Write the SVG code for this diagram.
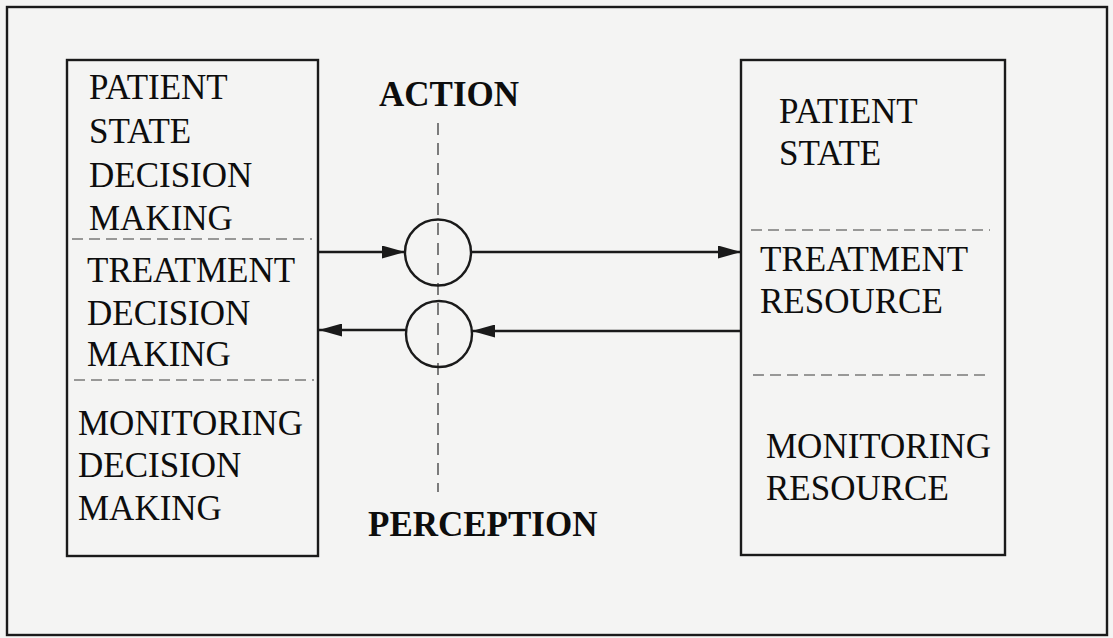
<svg xmlns="http://www.w3.org/2000/svg" width="1113" height="638" viewBox="0 0 1113 638">
  <style>
    .frame { fill: none; stroke: #1a1a1a; stroke-width: 2.4; }
    .box { fill: none; stroke: #1a1a1a; stroke-width: 2.4; }
    .divider { fill: none; stroke: #7a7a7a; stroke-width: 1.6; stroke-dasharray: 11 6; }
    .axis { fill: none; stroke: #5e5e5e; stroke-width: 1.6; stroke-dasharray: 12 8; }
    .link { fill: none; stroke: #1a1a1a; stroke-width: 2.6; }
    .node-circle { fill: none; stroke: #1a1a1a; stroke-width: 2.4; }
    .label { font-family: "Liberation Serif", "Times New Roman", serif; font-size: 35px; fill: #0d0d0d; }
    .title { font-family: "Liberation Serif", "Times New Roman", serif; font-size: 35px; font-weight: bold; fill: #0d0d0d; }
  </style>
  <defs>
    <marker id="head" markerWidth="23" markerHeight="13" refX="23" refY="6.5" orient="auto" markerUnits="userSpaceOnUse">
      <path d="M0,0 L23,6.5 L0,13 Z" fill="#1a1a1a"/>
    </marker>
  </defs>

  <rect x="0" y="0" width="1113" height="638" fill="#f4f4f3"/>
  <rect class="frame" x="7" y="7" width="1100" height="628"/>

  <!-- decision-making side -->
  <g id="decision-making">
    <rect class="box" x="67" y="60" width="251" height="496"/>
    <line class="divider" x1="72" y1="239" x2="312" y2="239"/>
    <line class="divider" x1="74" y1="380" x2="314" y2="380"/>
    <text class="label" x="89" y="99">PATIENT</text>
    <text class="label" x="89" y="143">STATE</text>
    <text class="label" x="89" y="187">DECISION</text>
    <text class="label" x="89" y="230">MAKING</text>
    <text class="label" x="87" y="282">TREATMENT</text>
    <text class="label" x="87" y="325">DECISION</text>
    <text class="label" x="87" y="366">MAKING</text>
    <text class="label" x="78" y="435">MONITORING</text>
    <text class="label" x="78" y="477">DECISION</text>
    <text class="label" x="78" y="520">MAKING</text>
  </g>

  <!-- resource side -->
  <g id="resources">
    <rect class="box" x="741" y="60" width="264" height="495"/>
    <line class="divider" x1="751" y1="230" x2="990" y2="230"/>
    <line class="divider" x1="753" y1="375" x2="990" y2="375"/>
    <text class="label" x="779" y="123">PATIENT</text>
    <text class="label" x="779" y="165">STATE</text>
    <text class="label" x="760" y="271">TREATMENT</text>
    <text class="label" x="760" y="313">RESOURCE</text>
    <text class="label" x="766" y="458">MONITORING</text>
    <text class="label" x="766" y="500">RESOURCE</text>
  </g>

  <!-- action / perception axis -->
  <g id="axis">
    <text class="title" x="379" y="106">ACTION</text>
    <text class="title" x="368" y="536">PERCEPTION</text>
    <line class="axis" x1="438" y1="123" x2="438" y2="492"/>
  </g>

  <g id="action-junction">
    <circle class="node-circle" cx="438" cy="252.5" r="33"/>
  </g>
  <g id="perception-junction">
    <circle class="node-circle" cx="439" cy="334" r="33"/>
  </g>

  <!-- connectors -->
  <g id="connectors">
    <line class="link" x1="318" y1="252" x2="405" y2="252" marker-end="url(#head)"/>
    <line class="link" x1="471" y1="252" x2="741" y2="252" marker-end="url(#head)"/>
    <line class="link" x1="741" y1="331" x2="472" y2="331" marker-end="url(#head)"/>
    <line class="link" x1="406" y1="330" x2="319" y2="330" marker-end="url(#head)"/>
  </g>
</svg>
